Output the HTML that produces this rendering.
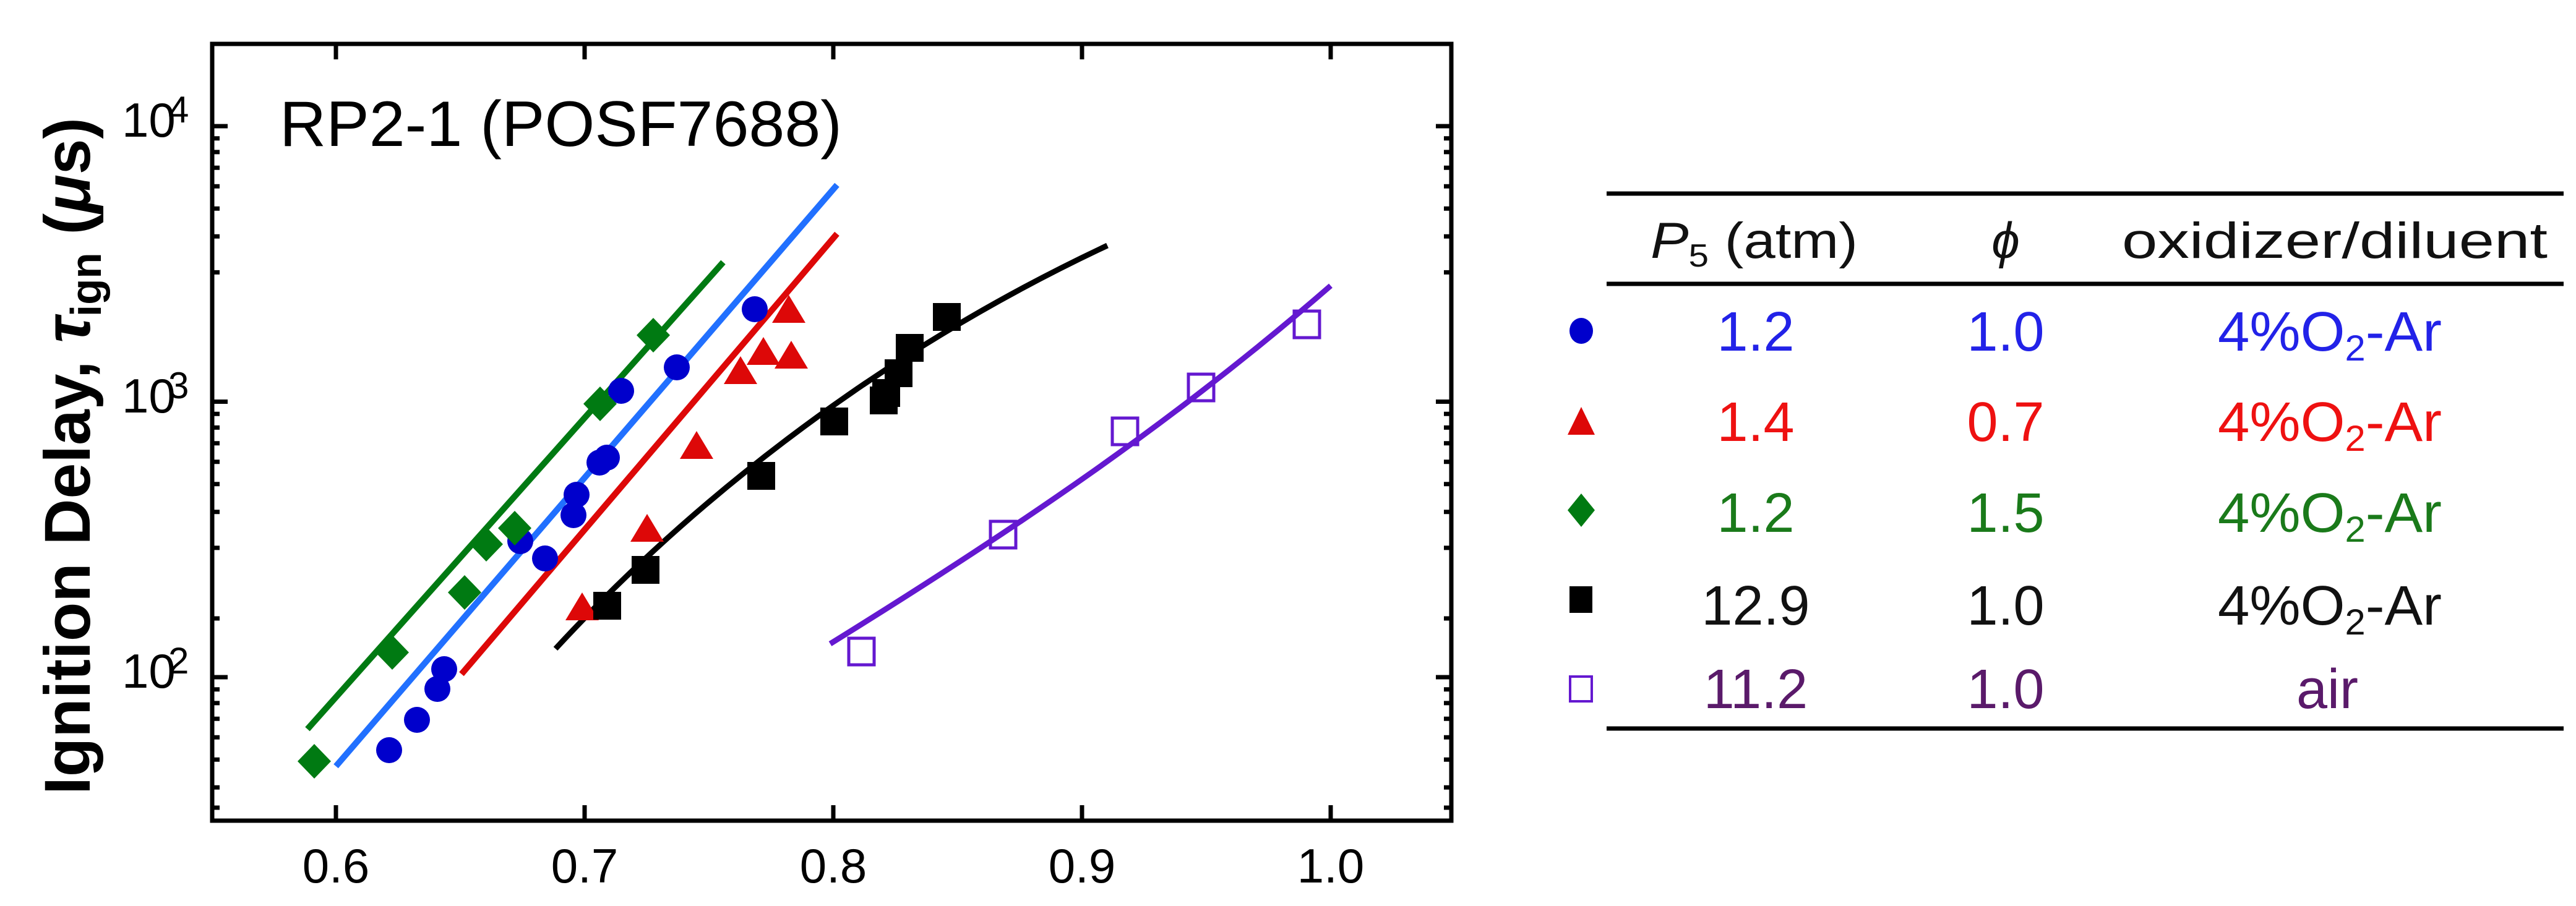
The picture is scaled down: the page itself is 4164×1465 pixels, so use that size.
<!DOCTYPE html>
<html><head><meta charset="utf-8"><style>html,body{margin:0;padding:0;background:#fff}svg{display:block}</style></head>
<body>
<svg width="4164" height="1465" viewBox="0 0 4164 1465" xmlns="http://www.w3.org/2000/svg" font-family="Liberation Sans, Arial, sans-serif">
<rect width="4164" height="1465" fill="#fff"/>
<g stroke="#000" stroke-width="7">
<path d="M543 71v25M945 71v25M1347 71v25M1749 71v25M2151 71v25M543 1327v-25M945 1327v-25M1347 1327v-25M1749 1327v-25M2151 1327v-25"/>
<path d="M343 204h25M343 649.5h25M343 1095h25M2346 204h-25M2346 649.5h-25M2346 1095h-25"/>
<path d="M343 223.8h12M343 245.9h12M343 271.3h12M343 301.2h12M343 337.3h12M343 382.3h12M343 440.4h12M343 1114.8h12M343 1136.9h12M343 1162.3h12M343 1192.2h12M343 1228.3h12M343 1273.3h12M343 669.3h12M343 691.4h12M343 716.8h12M343 746.7h12M343 782.8h12M343 827.8h12M343 885.9h12M343 1000h12M343 1306h12"/>
<path d="M2346 223.8h-12M2346 245.9h-12M2346 271.3h-12M2346 301.2h-12M2346 337.3h-12M2346 382.3h-12M2346 440.4h-12M2346 1114.8h-12M2346 1136.9h-12M2346 1162.3h-12M2346 1192.2h-12M2346 1228.3h-12M2346 1273.3h-12M2346 669.3h-12M2346 691.4h-12M2346 716.8h-12M2346 746.7h-12M2346 782.8h-12M2346 827.8h-12M2346 885.9h-12M2346 1000h-12M2346 1306h-12"/>
</g>
<rect x="343" y="71" width="2003" height="1256" fill="none" stroke="#000" stroke-width="7"/>
<g font-size="78" text-anchor="middle" fill="#000">
<text x="543" y="1427">0.6</text><text x="945" y="1427">0.7</text><text x="1347" y="1427">0.8</text><text x="1749" y="1427">0.9</text><text x="2151" y="1427">1.0</text>
</g>
<g font-size="78" fill="#000">
<text x="197" y="221">10</text><text x="272" y="198" font-size="60">4</text>
<text x="197" y="667">10</text><text x="272" y="644" font-size="60">3</text>
<text x="197" y="1112">10</text><text x="272" y="1089" font-size="60">2</text>
</g>
<text x="452" y="236" font-size="104" textLength="909" lengthAdjust="spacingAndGlyphs">RP2-1 (POSF7688)</text>
<text transform="translate(145,1285) rotate(-90)" font-size="105" font-weight="bold" textLength="1095" lengthAdjust="spacingAndGlyphs">Ignition Delay, <tspan font-style="italic">τ</tspan><tspan font-size="70" dy="18">ign</tspan><tspan dy="-18"> (</tspan><tspan font-style="italic">μ</tspan>s)</text>
<g fill="none" stroke-width="10" stroke-linejoin="round">
<path d="M497 1179L1169 424" stroke="#007a12"/>
<path d="M543 1239L1353 299" stroke="#2170ff"/>
<path d="M746 1090L1353 378" stroke="#dd0808"/>
<path d="M898 1049C1100 830 1400 580 1790 397" stroke="#000" stroke-width="9"/>
<path d="M1342 1041C1650 850 1900 680 2151 462" stroke="#6418d0" stroke-width="9"/>
</g>
<g fill="#0000cc">
<circle cx="629" cy="1213" r="21"/><circle cx="674" cy="1164" r="21"/><circle cx="707" cy="1114" r="21"/><circle cx="718" cy="1082" r="21"/><circle cx="841" cy="875" r="21"/><circle cx="881" cy="903" r="21"/><circle cx="927" cy="833" r="21"/><circle cx="932" cy="800" r="21"/><circle cx="969" cy="748" r="21"/><circle cx="981" cy="740" r="21"/><circle cx="1004" cy="632" r="21"/><circle cx="1094" cy="594" r="21"/><circle cx="1220" cy="500" r="21"/>
</g>
<g fill="#dd0808">
<path d="M941 958l27 45h-54z"/><path d="M1046 831l27 45h-54z"/><path d="M1126 697l27 45h-54z"/><path d="M1197 576l27 45h-54z"/><path d="M1234 545l27 45h-54z"/><path d="M1279 551l27 45h-54z"/><path d="M1275 477l27 45h-54z"/>
</g>
<g fill="#007a12">
<path d="M508 1203l27 28l-27 28l-27-28z"/><path d="M634 1027l27 28l-27 28l-27-28z"/><path d="M751 930l27 28l-27 28l-27-28z"/><path d="M786 852l27 28l-27 28l-27-28z"/><path d="M832 826l27 28l-27 28l-27-28z"/><path d="M970 625l27 28l-27 28l-27-28z"/><path d="M1056 514l27 28l-27 28l-27-28z"/>
</g>
<g fill="#000">
<rect x="959" y="957" width="45" height="45"/><rect x="1021" y="899" width="45" height="45"/><rect x="1208" y="747" width="45" height="45"/><rect x="1326" y="659" width="45" height="45"/><rect x="1406" y="625" width="45" height="45"/><rect x="1410" y="613" width="45" height="45"/><rect x="1430" y="581" width="45" height="45"/><rect x="1448" y="540" width="45" height="45"/><rect x="1508" y="490" width="45" height="45"/>
</g>
<g fill="none" stroke="#6418d0" stroke-width="5">
<rect x="1372" y="1032" width="41" height="43"/><rect x="1601" y="843" width="41" height="43"/><rect x="1798" y="676" width="41" height="43"/><rect x="1921" y="605" width="41" height="43"/><rect x="2092" y="503" width="41" height="43"/>
</g>
<g stroke="#000" stroke-width="7">
<path d="M2597 313H4144M2597 459H4144M2597 1178H4144"/>
</g>
<g font-size="82" fill="#111">
<text x="2668" y="417" textLength="335" lengthAdjust="spacingAndGlyphs"><tspan font-style="italic">P</tspan><tspan font-size="52" dy="14">5</tspan><tspan dy="-14"> (atm)</tspan></text>
<text x="3242" y="417" text-anchor="middle" font-style="italic">ϕ</text>
<text x="3430" y="417" textLength="688" lengthAdjust="spacingAndGlyphs">oxidizer/diluent</text>
</g>
<g font-size="90">
<g fill="#2222e8"><text x="2838" y="567" text-anchor="middle">1.2</text><text x="3242" y="567" text-anchor="middle">1.0</text><text x="3585" y="567" textLength="362" lengthAdjust="spacingAndGlyphs">4%O<tspan font-size="58" dy="16">2</tspan><tspan dy="-16">-Ar</tspan></text></g>
<g fill="#ee1111"><text x="2838" y="713" text-anchor="middle">1.4</text><text x="3242" y="713" text-anchor="middle">0.7</text><text x="3585" y="713" textLength="362" lengthAdjust="spacingAndGlyphs">4%O<tspan font-size="58" dy="16">2</tspan><tspan dy="-16">-Ar</tspan></text></g>
<g fill="#1a7a1a"><text x="2838" y="860" text-anchor="middle">1.2</text><text x="3242" y="860" text-anchor="middle">1.5</text><text x="3585" y="860" textLength="362" lengthAdjust="spacingAndGlyphs">4%O<tspan font-size="58" dy="16">2</tspan><tspan dy="-16">-Ar</tspan></text></g>
<g fill="#111"><text x="2838" y="1010" text-anchor="middle">12.9</text><text x="3242" y="1010" text-anchor="middle">1.0</text><text x="3585" y="1010" textLength="362" lengthAdjust="spacingAndGlyphs">4%O<tspan font-size="58" dy="16">2</tspan><tspan dy="-16">-Ar</tspan></text></g>
<g fill="#5a1a6a"><text x="2838" y="1145" text-anchor="middle">11.2</text><text x="3242" y="1145" text-anchor="middle">1.0</text><text x="3762" y="1145" text-anchor="middle">air</text></g>
</g>
<ellipse cx="2556" cy="535" rx="19" ry="21" fill="#0000cc"/>
<path d="M2556 658l22 45h-44z" fill="#dd0808"/>
<path d="M2556 798l22 27l-22 27l-22-27z" fill="#007a12"/>
<rect x="2537" y="948" width="37" height="43" fill="#000"/>
<rect x="2538" y="1094" width="35" height="40" fill="none" stroke="#6418d0" stroke-width="4"/>
</svg>
</body></html>
